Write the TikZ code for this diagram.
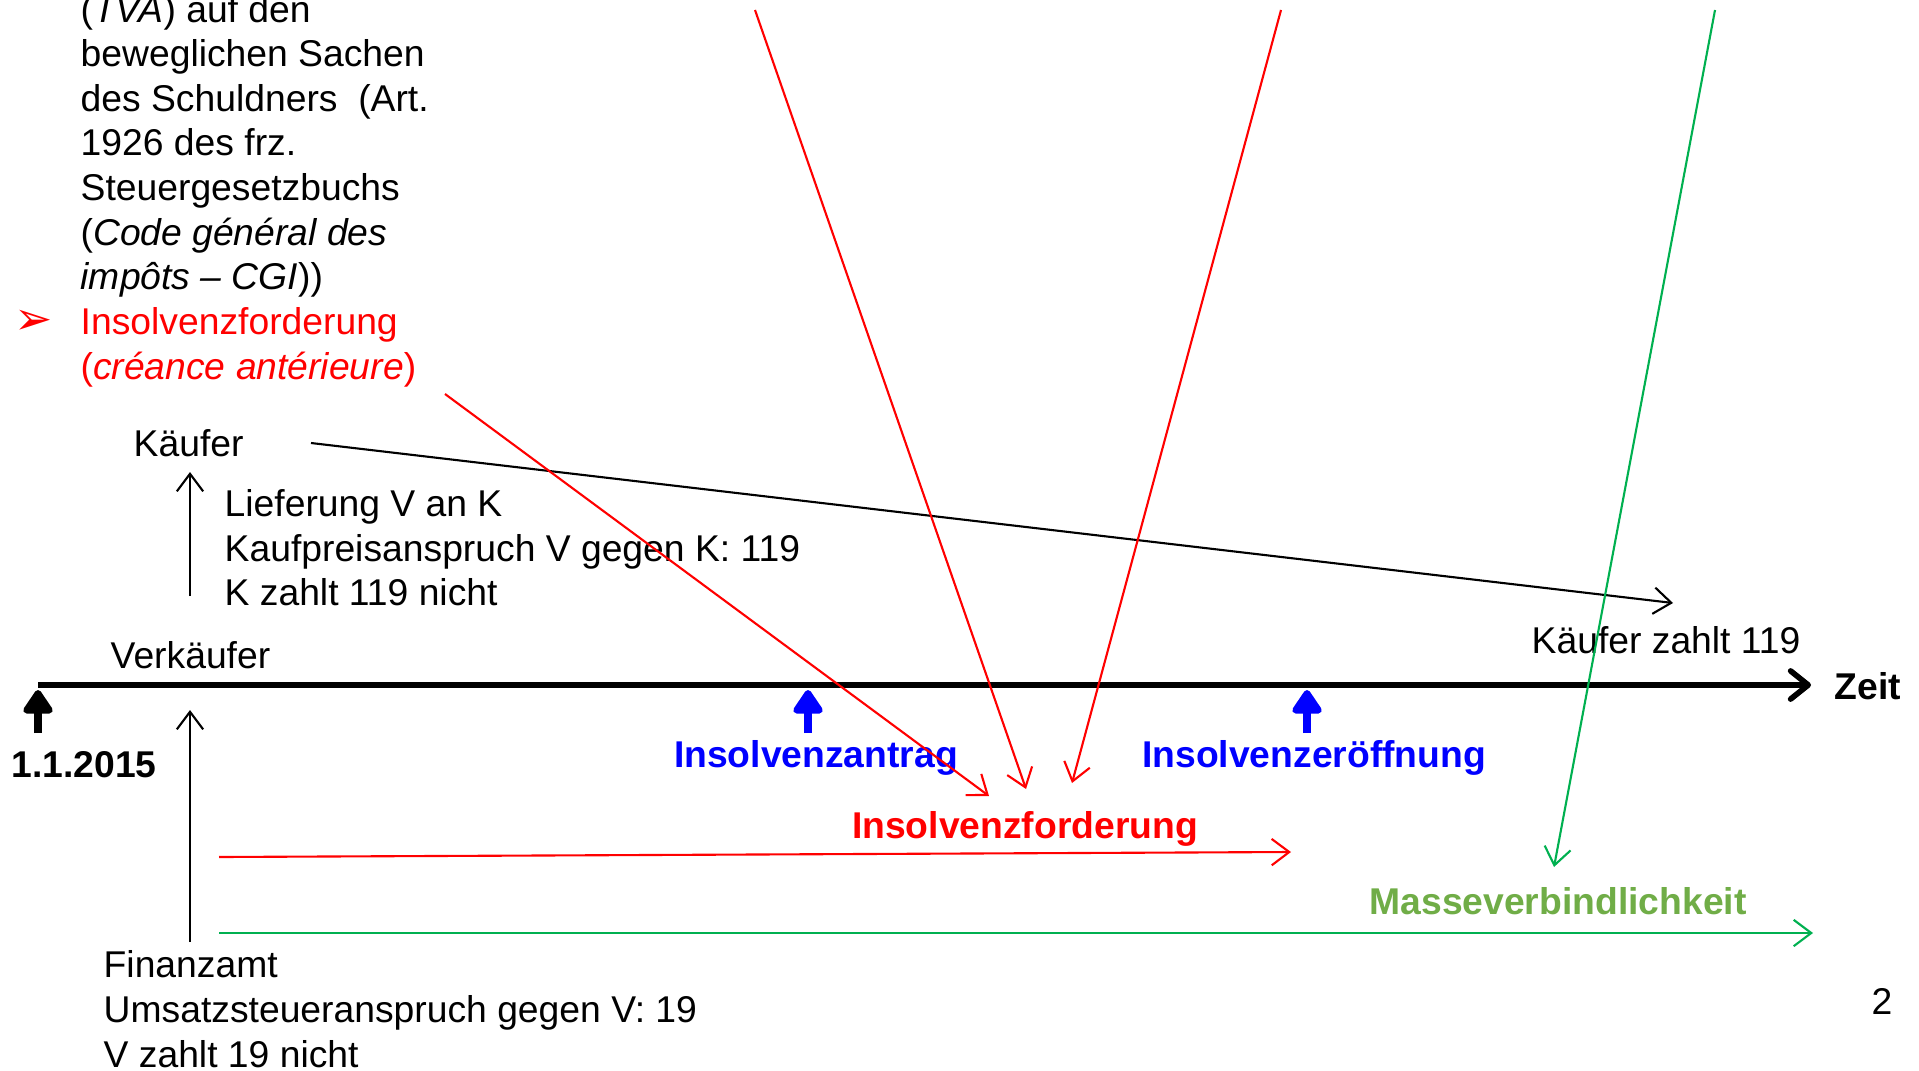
\documentclass[tikz,border=0pt]{standalone}
\usepackage{fontspec}
\setmainfont{Liberation Sans}
\newfontfamily\symfont{DejaVu Sans}
\usetikzlibrary{arrows.meta}
\definecolor{gruen}{HTML}{00B050}
\definecolor{hellgruen}{HTML}{70AD47}

\begin{document}
\begin{tikzpicture}
  [x=0.01cm,y=-0.01cm,
   every node/.style={inner sep=0pt,font=\fontsize{10.6}{12.7}\selectfont},
   lbl/.style={font=\fontsize{10.6}{12.7}\selectfont\bfseries},
   thin arr/.style={-{Straight Barb[length=5pt,width=7.5pt]},line width=0.6pt},
   up arr/.style={-{Triangle[round,length=7.5pt,width=9.5pt]},line width=2.1pt}]
  \useasboundingbox (0,0) rectangle (1919,1070);

  \node (txt) at (80,191) [anchor=west,align=left] {(\textit{TVA}) auf den\\
    beweglichen Sachen\\ des Schuldners\ \ (Art.\\ 1926 des frz.\\ Steuergesetzbuchs\\
    (\textit{Code général des}\\ \textit{impôts – CGI}))\\
    \textcolor{red}{Insolvenzforderung}\\ \textcolor{red}{(\textit{créance antérieure})}};
  \node (bul) at (34,322) [red,font=\symfont\fontsize{13}{14}\selectfont] {➢};
  \node (kaeufer) at (133,443) [anchor=west] {Käufer};
  \node (verk) at (110,655) [anchor=west] {Verkäufer};
  \node (lief) at (224,548) [anchor=west,align=left] {Lieferung V an K\\
    Kaufpreisanspruch V gegen K: 119\\ K zahlt 119 nicht};
  \node (fin) at (103,1009) [anchor=west,align=left] {Finanzamt\\
    Umsatzsteueranspruch gegen V: 19\\ V zahlt 19 nicht};
  \node (kz) at (1531,640) [anchor=west] {Käufer zahlt 119};
  \node (zeit) at (1834,686) [lbl,anchor=west] {Zeit};
  \node (datum) at (84,765) [lbl] {1.1.2015};
  \node (antrag) at (816,758) [lbl,blue] {Insolvenzantrag};
  \node (eroeff) at (1314,758) [lbl,blue] {Insolvenzeröffnung};
  \node (ifo) at (1025,829) [lbl,red] {Insolvenzforderung};
  \node (masse) at (1558,901) [lbl,hellgruen] {Masseverbindlichkeit};
  \node (seite) at (1882,1001) {2};

  \coordinate (t0) at (38,685);   \coordinate (t1) at (1811,685);
  \coordinate (d0) at (38,733);   \coordinate (d1) at (38,690);
  \coordinate (a0) at (808,733);  \coordinate (a1) at (808,690);
  \coordinate (e0) at (1307,733); \coordinate (e1) at (1307,690);
  \coordinate (v0) at (190,596);  \coordinate (v1) at (190,472);
  \coordinate (f0) at (190,942);  \coordinate (f1) at (190,710);
  \coordinate (k0) at (311,443);  \coordinate (k1) at (1673,603);
  \coordinate (r0) at (219,857);  \coordinate (r1) at (1291,852);
  \coordinate (g0) at (219,933);  \coordinate (g1) at (1813,933);
  \coordinate (s0) at (445,394);  \coordinate (s1) at (989,796);
  \coordinate (p0) at (755,10);   \coordinate (p1) at (1026,789);
  \coordinate (q0) at (1281,10);  \coordinate (q1) at (1072,783);
  \coordinate (m0) at (1715,10);  \coordinate (m1) at (1554,867);

  \draw[line width=1.6pt,-{Straight Barb[round,length=5pt,width=8pt]}] (t0) -- (t1);
  \draw[up arr] (d0) -- (d1);
  \foreach \from/\to in {a0/a1,e0/e1}
    \draw[up arr,blue] (\from) -- (\to);
  \foreach \from/\to in {v0/v1,f0/f1,k0/k1}
    \draw[thin arr] (\from) -- (\to);
  \foreach \from/\to in {r0/r1,s0/s1,p0/p1,q0/q1}
    \draw[thin arr,red] (\from) -- (\to);
  \foreach \from/\to in {g0/g1,m0/m1}
    \draw[thin arr,gruen] (\from) -- (\to);
\end{tikzpicture}
\end{document}
